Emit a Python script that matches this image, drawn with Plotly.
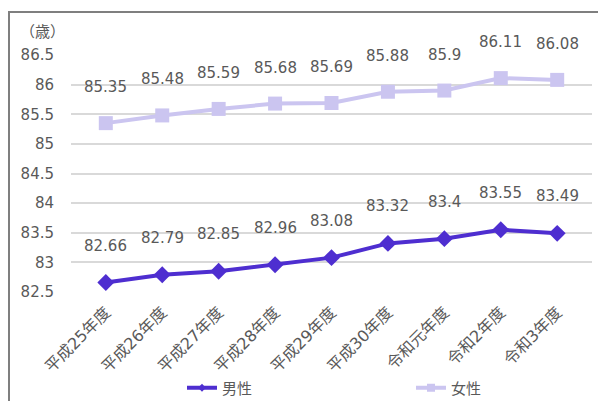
import plotly.graph_objects as go

categories = ["平成25年度", "平成26年度", "平成27年度", "平成28年度", "平成29年度",
              "平成30年度", "令和元年度", "令和2年度", "令和3年度"]
male = [82.66, 82.79, 82.85, 82.96, 83.08, 83.32, 83.4, 83.55, 83.49]
female = [85.35, 85.48, 85.59, 85.68, 85.69, 85.88, 85.9, 86.11, 86.08]
male_labels = ["82.66", "82.79", "82.85", "82.96", "83.08", "83.32", "83.4", "83.55", "83.49"]
female_labels = ["85.35", "85.48", "85.59", "85.68", "85.69", "85.88", "85.9", "86.11", "86.08"]
y_ticks = [82.5, 83, 83.5, 84, 84.5, 85, 85.5, 86, 86.5]
y_ticktext = ["82.5", "83", "83.5", "84", "84.5", "85", "85.5", "86", "86.5"]

MALE_C = "#4E2ED0"
FEMALE_C = "#CBC5F0"
TXT = "#595959"
FONT = "DejaVu Sans, Noto Sans CJK JP, sans-serif"

OFF = 8                      # page offset of the figure (body margin)
FW, FH = 606 - OFF, 401 - OFF
L, T, W, H = 63, 47, 521, 237  # plot area in figure px


def px(x):
    """page x -> paper x"""
    return (x - OFF - L) / W


def py(y):
    """page y -> paper y"""
    return (T + H - (y - OFF)) / H


fig = go.Figure()
fig.add_trace(go.Scatter(
    x=categories, y=male, name="男性", mode="lines+markers", showlegend=False,
    line=dict(color=MALE_C, width=4),
    marker=dict(symbol="diamond", size=13, color=MALE_C),
))
fig.add_trace(go.Scatter(
    x=categories, y=female, name="女性", mode="lines+markers", showlegend=False,
    line=dict(color=FEMALE_C, width=4),
    marker=dict(symbol="square", size=14, color=FEMALE_C),
))
# legend entries (smaller legend markers, as in the reference)
fig.add_trace(go.Scatter(
    x=[None], y=[None], name="男性", mode="lines+markers", legend="legend",
    line=dict(color=MALE_C, width=4),
    marker=dict(symbol="diamond", size=6, color=MALE_C),
))
fig.add_trace(go.Scatter(
    x=[None], y=[None], name="女性", mode="lines+markers", legend="legend2",
    line=dict(color=FEMALE_C, width=4),
    marker=dict(symbol="square", size=8, color=FEMALE_C),
))

annotations = []
for c, v, t in zip(categories, male, male_labels):
    annotations.append(dict(x=c, y=v, text=t, showarrow=False, yshift=37,
                            font=dict(size=15, color=TXT, family=FONT)))
for c, v, t in zip(categories, female, female_labels):
    annotations.append(dict(x=c, y=v, text=t, showarrow=False, yshift=36,
                            font=dict(size=15, color=TXT, family=FONT)))
annotations.append(dict(xref="paper", yref="paper", x=px(42), y=py(32),
                        text="（歳）", showarrow=False, xanchor="center", yanchor="middle",
                        font=dict(size=15, color=TXT, family=FONT)))

leg_common = dict(orientation="h", xanchor="left", yanchor="middle",
                  font=dict(size=15, color=TXT, family=FONT),
                  bgcolor="rgba(0,0,0,0)")

fig.update_layout(
    width=FW, height=FH,
    margin=dict(l=L, r=FW - L - W, t=T, b=FH - T - H, autoexpand=False),
    paper_bgcolor="white", plot_bgcolor="white",
    font=dict(family=FONT, color=TXT, size=15),
    showlegend=True,
    legend=dict(x=px(182), y=py(388), **leg_common),
    legend2=dict(x=px(411), y=py(388), **leg_common),
    annotations=annotations,
    shapes=[
        dict(type="path", xref="paper", yref="paper",
             path=f"M {px(9)},{py(401)} L {px(9)},{py(12)} L {px(606)},{py(12)}",
             line=dict(color="#7F7F7F", width=2), layer="above"),
    ],
)
fig.update_xaxes(showgrid=False, showline=False, ticks="", tickangle=-45,
                 automargin=False, ticklabelstandoff=7,
                 tickfont=dict(size=16, color=TXT, family=FONT))
fig.update_yaxes(range=[82.5, 86.5], tickvals=y_ticks, ticktext=y_ticktext,
                 showgrid=True, gridcolor="#D9D9D9", gridwidth=1.5,
                 zeroline=False, showline=False, ticks="", automargin=False,
                 ticklabelstandoff=16,
                 tickfont=dict(size=15, color=TXT, family=FONT))

fig.write_html("out.html")
